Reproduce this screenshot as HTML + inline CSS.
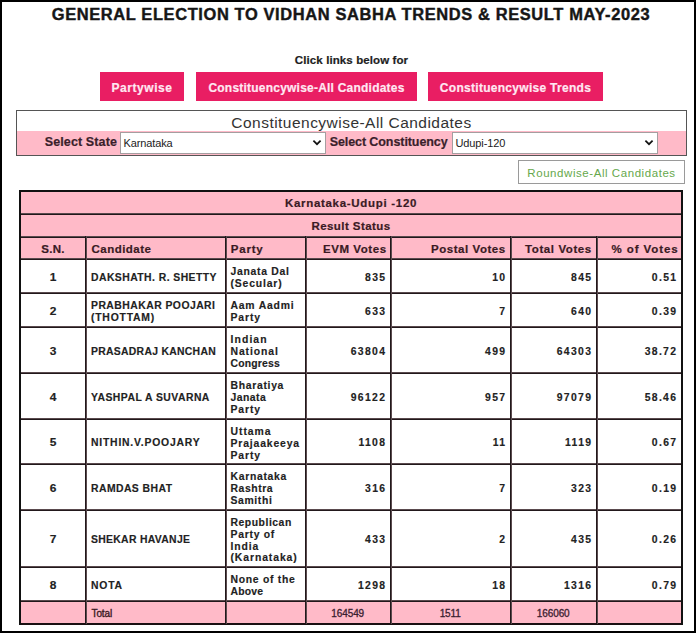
<!DOCTYPE html>
<html><head><meta charset="utf-8"><style>
html,body{margin:0;padding:0;background:#fff;}
body{width:696px;height:633px;position:relative;overflow:hidden;font-family:'Liberation Sans', sans-serif;}
.t{position:absolute;white-space:nowrap;font-family:'Liberation Sans', sans-serif;}
.r{position:absolute;}
</style></head><body>
<div class="t" style="left:0.00px;top:7.03px;font-size:15.8px;line-height:15.8px;font-weight:700;color:#161616;text-align:center;width:702.00px;letter-spacing:0.6px;-webkit-text-stroke:0.4px #161616;transform:scaleX(1.04);transform-origin:351px 0;">GENERAL ELECTION TO VIDHAN SABHA TRENDS &amp; RESULT MAY-2023</div>
<div class="t" style="left:0.00px;top:55.27px;font-size:11.5px;line-height:11.5px;font-weight:700;color:#1e1e1e;text-align:center;width:703.00px;letter-spacing:0.1px;-webkit-text-stroke:0.2px #1e1e1e;">Click links below for</div>
<div class="r" style="left:100px;top:72px;width:84px;height:29px;background:#e91e63;"></div>
<div class="t" style="left:100.00px;top:81.84px;font-size:12px;line-height:12px;font-weight:700;color:#ffe8f2;text-align:center;width:84.00px;letter-spacing:0.55px;-webkit-text-stroke:0.2px #ffe8f2;">Partywise</div>
<div class="r" style="left:196px;top:72px;width:221px;height:29px;background:#e91e63;"></div>
<div class="t" style="left:196.00px;top:81.84px;font-size:12px;line-height:12px;font-weight:700;color:#ffe8f2;text-align:center;width:221.00px;letter-spacing:0.22px;-webkit-text-stroke:0.2px #ffe8f2;">Constituencywise-All Candidates</div>
<div class="r" style="left:428px;top:72px;width:175px;height:29px;background:#e91e63;"></div>
<div class="t" style="left:428.00px;top:81.84px;font-size:12px;line-height:12px;font-weight:700;color:#ffe8f2;text-align:center;width:175.00px;letter-spacing:0.29px;-webkit-text-stroke:0.2px #ffe8f2;">Constituencywise Trends</div>
<div class="r" style="left:16px;top:110px;width:671px;height:46px;border:1px solid #555;box-sizing:border-box;"></div>
<div class="r" style="left:17px;top:131px;width:669px;height:24px;background:#ffbac8;"></div>
<div class="t" style="left:0.00px;top:114.88px;font-size:15.5px;line-height:15.5px;font-weight:400;color:#333;text-align:center;width:703.00px;letter-spacing:0.47px;">Constituencywise-All Candidates</div>
<div class="t" style="left:0.00px;top:136.42px;font-size:12.5px;line-height:12.5px;font-weight:700;color:#3a1f2b;text-align:right;width:117.00px;letter-spacing:0.12px;-webkit-text-stroke:0.2px #3a1f2b;">Select State</div>
<div class="t" style="left:0.00px;top:136.42px;font-size:12.5px;line-height:12.5px;font-weight:700;color:#3a1f2b;text-align:right;width:447.60px;letter-spacing:-0.08px;-webkit-text-stroke:0.2px #3a1f2b;">Select Constituency</div>
<div class="r" style="left:120px;top:132px;width:206px;height:22px;background:#fff;border:1px solid #a59ea0;box-sizing:border-box;"></div>
<div class="t" style="left:123.50px;top:137.69px;font-size:11px;line-height:11px;font-weight:400;color:#222;text-align:left;letter-spacing:-0.12px;">Karnataka</div>
<svg class="t" style="left:312px;top:138px" width="10" height="9" viewBox="0 0 10 9"><path d="M1.4 2.6 L5 6.2 L8.6 2.6" fill="none" stroke="#111" stroke-width="1.7"/></svg>
<div class="r" style="left:452px;top:132px;width:206px;height:22px;background:#fff;border:1px solid #a59ea0;box-sizing:border-box;"></div>
<div class="t" style="left:455.50px;top:137.69px;font-size:11px;line-height:11px;font-weight:400;color:#222;text-align:left;letter-spacing:-0.12px;">Udupi-120</div>
<svg class="t" style="left:644px;top:138px" width="10" height="9" viewBox="0 0 10 9"><path d="M1.4 2.6 L5 6.2 L8.6 2.6" fill="none" stroke="#111" stroke-width="1.7"/></svg>
<div class="r" style="left:518px;top:160px;width:167px;height:24px;border:1px solid #9a9a9a;box-sizing:border-box;"></div>
<div class="t" style="left:518.00px;top:167.87px;font-size:11.5px;line-height:11.5px;font-weight:400;color:#66a84c;text-align:center;width:167.00px;letter-spacing:0.56px;">Roundwise-All Candidates</div>
<div class="r" style="left:19px;top:190px;width:664px;height:46px;background:#ffbac8;"></div>
<div class="r" style="left:19px;top:236px;width:664px;height:23px;background:#ffbac8;"></div>
<div class="r" style="left:19px;top:601px;width:664px;height:23px;background:#ffbac8;"></div>
<div class="r" style="left:19px;top:213px;width:664px;height:2px;background:#22181b;border-top:1px solid #5a4a4e;box-sizing:border-box;"></div>
<div class="r" style="left:19px;top:236px;width:664px;height:2px;background:#22181b;border-top:1px solid #5a4a4e;box-sizing:border-box;"></div>
<div class="r" style="left:19px;top:258px;width:664px;height:2px;background:#22181b;border-top:1px solid #5a4a4e;box-sizing:border-box;"></div>
<div class="r" style="left:19px;top:292px;width:664px;height:2px;background:#22181b;border-top:1px solid #5a4a4e;box-sizing:border-box;"></div>
<div class="r" style="left:19px;top:326px;width:664px;height:2px;background:#22181b;border-top:1px solid #5a4a4e;box-sizing:border-box;"></div>
<div class="r" style="left:19px;top:372px;width:664px;height:2px;background:#22181b;border-top:1px solid #5a4a4e;box-sizing:border-box;"></div>
<div class="r" style="left:19px;top:418px;width:664px;height:2px;background:#22181b;border-top:1px solid #5a4a4e;box-sizing:border-box;"></div>
<div class="r" style="left:19px;top:463px;width:664px;height:2px;background:#22181b;border-top:1px solid #5a4a4e;box-sizing:border-box;"></div>
<div class="r" style="left:19px;top:509px;width:664px;height:2px;background:#22181b;border-top:1px solid #5a4a4e;box-sizing:border-box;"></div>
<div class="r" style="left:19px;top:566px;width:664px;height:2px;background:#22181b;border-top:1px solid #5a4a4e;box-sizing:border-box;"></div>
<div class="r" style="left:19px;top:600px;width:664px;height:2px;background:#22181b;border-top:1px solid #5a4a4e;box-sizing:border-box;"></div>
<div class="r" style="left:19px;top:190px;width:664px;height:2px;background:#111;"></div>
<div class="r" style="left:19px;top:623px;width:664px;height:2px;background:#1a1012;"></div>
<div class="r" style="left:19px;top:190px;width:2px;height:435px;background:#111;"></div>
<div class="r" style="left:681px;top:190px;width:2px;height:435px;background:#111;"></div>
<div class="r" style="left:85px;top:236px;width:2px;height:388px;background:#22181b;border-right:1px solid #5a4a4e;box-sizing:border-box;"></div>
<div class="r" style="left:225px;top:236px;width:2px;height:388px;background:#22181b;border-right:1px solid #5a4a4e;box-sizing:border-box;"></div>
<div class="r" style="left:305px;top:236px;width:2px;height:388px;background:#22181b;border-right:1px solid #5a4a4e;box-sizing:border-box;"></div>
<div class="r" style="left:390px;top:236px;width:2px;height:388px;background:#22181b;border-right:1px solid #5a4a4e;box-sizing:border-box;"></div>
<div class="r" style="left:510px;top:236px;width:2px;height:388px;background:#22181b;border-right:1px solid #5a4a4e;box-sizing:border-box;"></div>
<div class="r" style="left:596px;top:236px;width:2px;height:388px;background:#22181b;border-right:1px solid #5a4a4e;box-sizing:border-box;"></div>
<div class="t" style="left:19.00px;top:198.07px;font-size:11.5px;line-height:11.5px;font-weight:700;color:#3a1a24;text-align:center;width:664.00px;letter-spacing:0.7px;-webkit-text-stroke:0.2px #3a1a24;">Karnataka-Udupi -120</div>
<div class="t" style="left:19.00px;top:221.07px;font-size:11.5px;line-height:11.5px;font-weight:700;color:#3a1a24;text-align:center;width:664.00px;letter-spacing:0.43px;-webkit-text-stroke:0.2px #3a1a24;">Result Status</div>
<div class="t" style="left:41.20px;top:244.07px;font-size:11.5px;line-height:11.5px;font-weight:700;color:#3a1a24;text-align:left;letter-spacing:0.33px;-webkit-text-stroke:0.2px #3a1a24;">S.N.</div>
<div class="t" style="left:91.50px;top:244.07px;font-size:11.5px;line-height:11.5px;font-weight:700;color:#3a1a24;text-align:left;letter-spacing:0.47px;-webkit-text-stroke:0.2px #3a1a24;">Candidate</div>
<div class="t" style="left:230.80px;top:244.07px;font-size:11.5px;line-height:11.5px;font-weight:700;color:#3a1a24;text-align:left;letter-spacing:0.77px;-webkit-text-stroke:0.2px #3a1a24;">Party</div>
<div class="t" style="left:0.00px;top:244.07px;font-size:11.5px;line-height:11.5px;font-weight:700;color:#3a1a24;text-align:right;width:386.67px;letter-spacing:0.57px;-webkit-text-stroke:0.2px #3a1a24;">EVM Votes</div>
<div class="t" style="left:0.00px;top:244.07px;font-size:11.5px;line-height:11.5px;font-weight:700;color:#3a1a24;text-align:right;width:505.75px;letter-spacing:0.55px;-webkit-text-stroke:0.2px #3a1a24;">Postal Votes</div>
<div class="t" style="left:0.00px;top:244.07px;font-size:11.5px;line-height:11.5px;font-weight:700;color:#3a1a24;text-align:right;width:591.78px;letter-spacing:0.58px;-webkit-text-stroke:0.2px #3a1a24;">Total Votes</div>
<div class="t" style="left:0.00px;top:244.07px;font-size:11.5px;line-height:11.5px;font-weight:700;color:#3a1a24;text-align:right;width:678.61px;letter-spacing:0.91px;-webkit-text-stroke:0.2px #3a1a24;">% of Votes</div>
<div class="t" style="left:21.00px;top:272.78px;font-size:10.4px;line-height:10.4px;font-weight:700;color:#222;text-align:center;width:64.00px;-webkit-text-stroke:0.15px #222;transform:scaleX(1.15);">1</div>
<div class="t" style="left:91.00px;top:272.78px;font-size:10.4px;line-height:10.4px;font-weight:700;color:#222;text-align:left;letter-spacing:0.44px;-webkit-text-stroke:0.15px #222;">DAKSHATH. R. SHETTY</div>
<div class="t" style="left:230.50px;top:267.38px;font-size:10.4px;line-height:10.4px;font-weight:700;color:#222;text-align:left;letter-spacing:0.72px;-webkit-text-stroke:0.15px #222;">Janata Dal</div>
<div class="t" style="left:230.50px;top:279.18px;font-size:10.4px;line-height:10.4px;font-weight:700;color:#222;text-align:left;letter-spacing:0.83px;-webkit-text-stroke:0.15px #222;">(Secular)</div>
<div class="t" style="left:307.00px;top:272.78px;font-size:10.4px;line-height:10.4px;font-weight:700;color:#222;text-align:right;width:79.40px;letter-spacing:1.35px;-webkit-text-stroke:0.15px #222;">835</div>
<div class="t" style="left:392.00px;top:272.78px;font-size:10.4px;line-height:10.4px;font-weight:700;color:#222;text-align:right;width:114.40px;letter-spacing:1.35px;-webkit-text-stroke:0.15px #222;">10</div>
<div class="t" style="left:512.00px;top:272.78px;font-size:10.4px;line-height:10.4px;font-weight:700;color:#222;text-align:right;width:80.40px;letter-spacing:1.35px;-webkit-text-stroke:0.15px #222;">845</div>
<div class="t" style="left:598.00px;top:272.78px;font-size:10.4px;line-height:10.4px;font-weight:700;color:#222;text-align:right;width:79.40px;letter-spacing:1.35px;-webkit-text-stroke:0.15px #222;">0.51</div>
<div class="t" style="left:21.00px;top:306.78px;font-size:10.4px;line-height:10.4px;font-weight:700;color:#222;text-align:center;width:64.00px;-webkit-text-stroke:0.15px #222;transform:scaleX(1.15);">2</div>
<div class="t" style="left:91.00px;top:300.88px;font-size:10.4px;line-height:10.4px;font-weight:700;color:#222;text-align:left;letter-spacing:0.46px;-webkit-text-stroke:0.15px #222;">PRABHAKAR POOJARI</div>
<div class="t" style="left:91.00px;top:312.68px;font-size:10.4px;line-height:10.4px;font-weight:700;color:#222;text-align:left;letter-spacing:0.78px;-webkit-text-stroke:0.15px #222;">(THOTTAM)</div>
<div class="t" style="left:230.50px;top:301.38px;font-size:10.4px;line-height:10.4px;font-weight:700;color:#222;text-align:left;letter-spacing:0.79px;-webkit-text-stroke:0.15px #222;">Aam Aadmi</div>
<div class="t" style="left:230.50px;top:313.18px;font-size:10.4px;line-height:10.4px;font-weight:700;color:#222;text-align:left;letter-spacing:0.9px;-webkit-text-stroke:0.15px #222;">Party</div>
<div class="t" style="left:307.00px;top:306.78px;font-size:10.4px;line-height:10.4px;font-weight:700;color:#222;text-align:right;width:79.40px;letter-spacing:1.35px;-webkit-text-stroke:0.15px #222;">633</div>
<div class="t" style="left:392.00px;top:306.78px;font-size:10.4px;line-height:10.4px;font-weight:700;color:#222;text-align:right;width:114.40px;letter-spacing:1.35px;-webkit-text-stroke:0.15px #222;">7</div>
<div class="t" style="left:512.00px;top:306.78px;font-size:10.4px;line-height:10.4px;font-weight:700;color:#222;text-align:right;width:80.40px;letter-spacing:1.35px;-webkit-text-stroke:0.15px #222;">640</div>
<div class="t" style="left:598.00px;top:306.78px;font-size:10.4px;line-height:10.4px;font-weight:700;color:#222;text-align:right;width:79.40px;letter-spacing:1.35px;-webkit-text-stroke:0.15px #222;">0.39</div>
<div class="t" style="left:21.00px;top:346.78px;font-size:10.4px;line-height:10.4px;font-weight:700;color:#222;text-align:center;width:64.00px;-webkit-text-stroke:0.15px #222;transform:scaleX(1.15);">3</div>
<div class="t" style="left:91.00px;top:346.78px;font-size:10.4px;line-height:10.4px;font-weight:700;color:#222;text-align:left;letter-spacing:0.29px;-webkit-text-stroke:0.15px #222;">PRASADRAJ KANCHAN</div>
<div class="t" style="left:230.50px;top:335.48px;font-size:10.4px;line-height:10.4px;font-weight:700;color:#222;text-align:left;letter-spacing:1.1px;-webkit-text-stroke:0.15px #222;">Indian</div>
<div class="t" style="left:230.50px;top:347.28px;font-size:10.4px;line-height:10.4px;font-weight:700;color:#222;text-align:left;letter-spacing:0.9px;-webkit-text-stroke:0.15px #222;">National</div>
<div class="t" style="left:230.50px;top:359.08px;font-size:10.4px;line-height:10.4px;font-weight:700;color:#222;text-align:left;letter-spacing:0.2px;-webkit-text-stroke:0.15px #222;">Congress</div>
<div class="t" style="left:307.00px;top:346.78px;font-size:10.4px;line-height:10.4px;font-weight:700;color:#222;text-align:right;width:79.40px;letter-spacing:1.35px;-webkit-text-stroke:0.15px #222;">63804</div>
<div class="t" style="left:392.00px;top:346.78px;font-size:10.4px;line-height:10.4px;font-weight:700;color:#222;text-align:right;width:114.40px;letter-spacing:1.35px;-webkit-text-stroke:0.15px #222;">499</div>
<div class="t" style="left:512.00px;top:346.78px;font-size:10.4px;line-height:10.4px;font-weight:700;color:#222;text-align:right;width:80.40px;letter-spacing:1.35px;-webkit-text-stroke:0.15px #222;">64303</div>
<div class="t" style="left:598.00px;top:346.78px;font-size:10.4px;line-height:10.4px;font-weight:700;color:#222;text-align:right;width:79.40px;letter-spacing:1.35px;-webkit-text-stroke:0.15px #222;">38.72</div>
<div class="t" style="left:21.00px;top:392.78px;font-size:10.4px;line-height:10.4px;font-weight:700;color:#222;text-align:center;width:64.00px;-webkit-text-stroke:0.15px #222;transform:scaleX(1.15);">4</div>
<div class="t" style="left:91.00px;top:392.78px;font-size:10.4px;line-height:10.4px;font-weight:700;color:#222;text-align:left;letter-spacing:0.47px;-webkit-text-stroke:0.15px #222;">YASHPAL A SUVARNA</div>
<div class="t" style="left:230.50px;top:381.48px;font-size:10.4px;line-height:10.4px;font-weight:700;color:#222;text-align:left;letter-spacing:0.69px;-webkit-text-stroke:0.15px #222;">Bharatiya</div>
<div class="t" style="left:230.50px;top:393.28px;font-size:10.4px;line-height:10.4px;font-weight:700;color:#222;text-align:left;letter-spacing:0.48px;-webkit-text-stroke:0.15px #222;">Janata</div>
<div class="t" style="left:230.50px;top:405.08px;font-size:10.4px;line-height:10.4px;font-weight:700;color:#222;text-align:left;letter-spacing:0.9px;-webkit-text-stroke:0.15px #222;">Party</div>
<div class="t" style="left:307.00px;top:392.78px;font-size:10.4px;line-height:10.4px;font-weight:700;color:#222;text-align:right;width:79.40px;letter-spacing:1.35px;-webkit-text-stroke:0.15px #222;">96122</div>
<div class="t" style="left:392.00px;top:392.78px;font-size:10.4px;line-height:10.4px;font-weight:700;color:#222;text-align:right;width:114.40px;letter-spacing:1.35px;-webkit-text-stroke:0.15px #222;">957</div>
<div class="t" style="left:512.00px;top:392.78px;font-size:10.4px;line-height:10.4px;font-weight:700;color:#222;text-align:right;width:80.40px;letter-spacing:1.35px;-webkit-text-stroke:0.15px #222;">97079</div>
<div class="t" style="left:598.00px;top:392.78px;font-size:10.4px;line-height:10.4px;font-weight:700;color:#222;text-align:right;width:79.40px;letter-spacing:1.35px;-webkit-text-stroke:0.15px #222;">58.46</div>
<div class="t" style="left:21.00px;top:438.28px;font-size:10.4px;line-height:10.4px;font-weight:700;color:#222;text-align:center;width:64.00px;-webkit-text-stroke:0.15px #222;transform:scaleX(1.15);">5</div>
<div class="t" style="left:91.00px;top:438.28px;font-size:10.4px;line-height:10.4px;font-weight:700;color:#222;text-align:left;letter-spacing:0.79px;-webkit-text-stroke:0.15px #222;">NITHIN.V.POOJARY</div>
<div class="t" style="left:230.50px;top:426.98px;font-size:10.4px;line-height:10.4px;font-weight:700;color:#222;text-align:left;letter-spacing:0.96px;-webkit-text-stroke:0.15px #222;">Uttama</div>
<div class="t" style="left:230.50px;top:438.78px;font-size:10.4px;line-height:10.4px;font-weight:700;color:#222;text-align:left;letter-spacing:0.85px;-webkit-text-stroke:0.15px #222;">Prajaakeeya</div>
<div class="t" style="left:230.50px;top:450.58px;font-size:10.4px;line-height:10.4px;font-weight:700;color:#222;text-align:left;letter-spacing:0.9px;-webkit-text-stroke:0.15px #222;">Party</div>
<div class="t" style="left:307.00px;top:438.28px;font-size:10.4px;line-height:10.4px;font-weight:700;color:#222;text-align:right;width:79.40px;letter-spacing:1.35px;-webkit-text-stroke:0.15px #222;">1108</div>
<div class="t" style="left:392.00px;top:438.28px;font-size:10.4px;line-height:10.4px;font-weight:700;color:#222;text-align:right;width:114.40px;letter-spacing:1.35px;-webkit-text-stroke:0.15px #222;">11</div>
<div class="t" style="left:512.00px;top:438.28px;font-size:10.4px;line-height:10.4px;font-weight:700;color:#222;text-align:right;width:80.40px;letter-spacing:1.35px;-webkit-text-stroke:0.15px #222;">1119</div>
<div class="t" style="left:598.00px;top:438.28px;font-size:10.4px;line-height:10.4px;font-weight:700;color:#222;text-align:right;width:79.40px;letter-spacing:1.35px;-webkit-text-stroke:0.15px #222;">0.67</div>
<div class="t" style="left:21.00px;top:483.78px;font-size:10.4px;line-height:10.4px;font-weight:700;color:#222;text-align:center;width:64.00px;-webkit-text-stroke:0.15px #222;transform:scaleX(1.15);">6</div>
<div class="t" style="left:91.00px;top:483.78px;font-size:10.4px;line-height:10.4px;font-weight:700;color:#222;text-align:left;letter-spacing:0.44px;-webkit-text-stroke:0.15px #222;">RAMDAS BHAT</div>
<div class="t" style="left:230.50px;top:472.48px;font-size:10.4px;line-height:10.4px;font-weight:700;color:#222;text-align:left;letter-spacing:0.69px;-webkit-text-stroke:0.15px #222;">Karnataka</div>
<div class="t" style="left:230.50px;top:484.28px;font-size:10.4px;line-height:10.4px;font-weight:700;color:#222;text-align:left;letter-spacing:0.57px;-webkit-text-stroke:0.15px #222;">Rashtra</div>
<div class="t" style="left:230.50px;top:496.08px;font-size:10.4px;line-height:10.4px;font-weight:700;color:#222;text-align:left;letter-spacing:0.63px;-webkit-text-stroke:0.15px #222;">Samithi</div>
<div class="t" style="left:307.00px;top:483.78px;font-size:10.4px;line-height:10.4px;font-weight:700;color:#222;text-align:right;width:79.40px;letter-spacing:1.35px;-webkit-text-stroke:0.15px #222;">316</div>
<div class="t" style="left:392.00px;top:483.78px;font-size:10.4px;line-height:10.4px;font-weight:700;color:#222;text-align:right;width:114.40px;letter-spacing:1.35px;-webkit-text-stroke:0.15px #222;">7</div>
<div class="t" style="left:512.00px;top:483.78px;font-size:10.4px;line-height:10.4px;font-weight:700;color:#222;text-align:right;width:80.40px;letter-spacing:1.35px;-webkit-text-stroke:0.15px #222;">323</div>
<div class="t" style="left:598.00px;top:483.78px;font-size:10.4px;line-height:10.4px;font-weight:700;color:#222;text-align:right;width:79.40px;letter-spacing:1.35px;-webkit-text-stroke:0.15px #222;">0.19</div>
<div class="t" style="left:21.00px;top:535.28px;font-size:10.4px;line-height:10.4px;font-weight:700;color:#222;text-align:center;width:64.00px;-webkit-text-stroke:0.15px #222;transform:scaleX(1.15);">7</div>
<div class="t" style="left:91.00px;top:535.28px;font-size:10.4px;line-height:10.4px;font-weight:700;color:#222;text-align:left;letter-spacing:0.31px;-webkit-text-stroke:0.15px #222;">SHEKAR HAVANJE</div>
<div class="t" style="left:230.50px;top:518.08px;font-size:10.4px;line-height:10.4px;font-weight:700;color:#222;text-align:left;letter-spacing:0.53px;-webkit-text-stroke:0.15px #222;">Republican</div>
<div class="t" style="left:230.50px;top:529.88px;font-size:10.4px;line-height:10.4px;font-weight:700;color:#222;text-align:left;letter-spacing:0.73px;-webkit-text-stroke:0.15px #222;">Party of</div>
<div class="t" style="left:230.50px;top:541.68px;font-size:10.4px;line-height:10.4px;font-weight:700;color:#222;text-align:left;letter-spacing:0.9px;-webkit-text-stroke:0.15px #222;">India</div>
<div class="t" style="left:230.50px;top:553.48px;font-size:10.4px;line-height:10.4px;font-weight:700;color:#222;text-align:left;letter-spacing:0.91px;-webkit-text-stroke:0.15px #222;">(Karnataka)</div>
<div class="t" style="left:307.00px;top:535.28px;font-size:10.4px;line-height:10.4px;font-weight:700;color:#222;text-align:right;width:79.40px;letter-spacing:1.35px;-webkit-text-stroke:0.15px #222;">433</div>
<div class="t" style="left:392.00px;top:535.28px;font-size:10.4px;line-height:10.4px;font-weight:700;color:#222;text-align:right;width:114.40px;letter-spacing:1.35px;-webkit-text-stroke:0.15px #222;">2</div>
<div class="t" style="left:512.00px;top:535.28px;font-size:10.4px;line-height:10.4px;font-weight:700;color:#222;text-align:right;width:80.40px;letter-spacing:1.35px;-webkit-text-stroke:0.15px #222;">435</div>
<div class="t" style="left:598.00px;top:535.28px;font-size:10.4px;line-height:10.4px;font-weight:700;color:#222;text-align:right;width:79.40px;letter-spacing:1.35px;-webkit-text-stroke:0.15px #222;">0.26</div>
<div class="t" style="left:21.00px;top:580.78px;font-size:10.4px;line-height:10.4px;font-weight:700;color:#222;text-align:center;width:64.00px;-webkit-text-stroke:0.15px #222;transform:scaleX(1.15);">8</div>
<div class="t" style="left:91.00px;top:580.78px;font-size:10.4px;line-height:10.4px;font-weight:700;color:#222;text-align:left;letter-spacing:0.77px;-webkit-text-stroke:0.15px #222;">NOTA</div>
<div class="t" style="left:230.50px;top:575.38px;font-size:10.4px;line-height:10.4px;font-weight:700;color:#222;text-align:left;letter-spacing:0.72px;-webkit-text-stroke:0.15px #222;">None of the</div>
<div class="t" style="left:230.50px;top:587.18px;font-size:10.4px;line-height:10.4px;font-weight:700;color:#222;text-align:left;letter-spacing:0.2px;-webkit-text-stroke:0.15px #222;">Above</div>
<div class="t" style="left:307.00px;top:580.78px;font-size:10.4px;line-height:10.4px;font-weight:700;color:#222;text-align:right;width:79.40px;letter-spacing:1.35px;-webkit-text-stroke:0.15px #222;">1298</div>
<div class="t" style="left:392.00px;top:580.78px;font-size:10.4px;line-height:10.4px;font-weight:700;color:#222;text-align:right;width:114.40px;letter-spacing:1.35px;-webkit-text-stroke:0.15px #222;">18</div>
<div class="t" style="left:512.00px;top:580.78px;font-size:10.4px;line-height:10.4px;font-weight:700;color:#222;text-align:right;width:80.40px;letter-spacing:1.35px;-webkit-text-stroke:0.15px #222;">1316</div>
<div class="t" style="left:598.00px;top:580.78px;font-size:10.4px;line-height:10.4px;font-weight:700;color:#222;text-align:right;width:79.40px;letter-spacing:1.35px;-webkit-text-stroke:0.15px #222;">0.79</div>
<div class="t" style="left:91.50px;top:608.74px;font-size:10px;line-height:10px;font-weight:400;color:#3a1a24;text-align:left;letter-spacing:-0.1px;-webkit-text-stroke:0.35px #3a1a24;">Total</div>
<div class="t" style="left:306.20px;top:608.74px;font-size:10px;line-height:10px;font-weight:400;color:#3a2030;text-align:center;width:83.00px;letter-spacing:-0.1px;-webkit-text-stroke:0.3px #3a2030;">164549</div>
<div class="t" style="left:391.20px;top:608.74px;font-size:10px;line-height:10px;font-weight:400;color:#3a2030;text-align:center;width:118.00px;letter-spacing:-0.1px;-webkit-text-stroke:0.3px #3a2030;">1511</div>
<div class="t" style="left:511.20px;top:608.74px;font-size:10px;line-height:10px;font-weight:400;color:#3a2030;text-align:center;width:84.00px;letter-spacing:-0.1px;-webkit-text-stroke:0.3px #3a2030;">166060</div>
<div class="r" style="left:0px;top:0px;width:696px;height:633px;border:2px solid #000;box-sizing:border-box;background:transparent;"></div>
</body></html>
